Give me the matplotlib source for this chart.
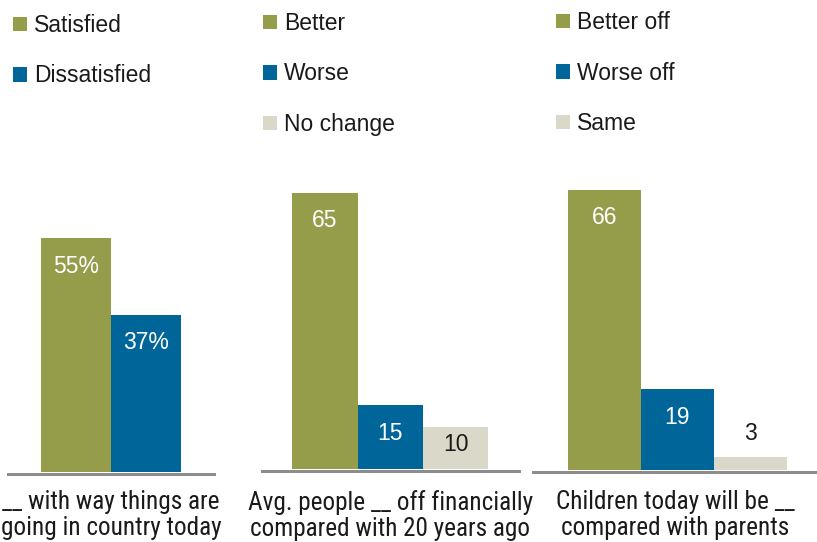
import matplotlib.pyplot as plt
from matplotlib import font_manager

# --- Data ---
panel_titles = [
    "__ with way things are\ngoing in country today",
    "Avg. people __ off financially\ncompared with 20 years ago",
    "Children today will be __\ncompared with parents",
]
panel_labels = [
    ["Satisfied", "Dissatisfied"],
    ["Better", "Worse", "No change"],
    ["Better off", "Worse off", "Same"],
]
panel_values = [
    [55, 37],
    [65, 15, 10],
    [66, 19, 3],
]
panel_suffix = ["%", "", ""]

GREEN = "#969d4a"
BLUE = "#006699"
BEIGE = "#dad8c8"
AXIS_GRAY = "#8c8c8c"
TEXT_DARK = "#1a1a1a"
bar_colors = [GREEN, BLUE, BEIGE]
value_colors = ["white", "white", TEXT_DARK]

W, H = 817, 542
PX_PER_UNIT = 4.25
TOP = 150

fonts = font_manager.fontManager.ttflist
names = {f.name for f in fonts}
BASE = "Liberation Sans" if "Liberation Sans" in names else "DejaVu Sans"
plt.rcParams["font.family"] = [BASE, "DejaVu Sans"]

# condensed face for the category labels, if one is installed
title_font = dict(family=[BASE, "DejaVu Sans"], fontsize=16.5)
for cand in ["Liberation Sans Narrow", "Roboto Condensed", "Open Sans Condensed"]:
    if cand in names:
        title_font = dict(family=[cand, "DejaVu Sans"], fontsize=18.2)
        break
else:
    if any(f.name == "DejaVu Sans" and f.stretch == "condensed" for f in fonts):
        title_font = dict(family=["DejaVu Sans"], fontstretch="condensed",
                          fontsize=17)

# panel layout in pixels: axis line left/right, baseline y, bar width, left edge of first bar
layout = [
    (8, 214, 472, 70.0, 41),
    (262, 519, 469, 65.5, 292),
    (533, 817, 470, 73.0, 568),
]
legend_pos = [(13, 14), (263, 12), (556, 11)]


def add_panel(fig, i):
    left, right, base, bw, first = layout[i]
    ax = fig.add_axes([left / W, 1 - (base + 1.5) / H,
                       (right - left) / W, (base + 1.5 - TOP) / H])
    vals = panel_values[i]
    n = len(vals)
    x0 = -0.5 - (first - left) / bw
    ax.set_xlim(x0, x0 + (right - left) / bw)
    ax.set_ylim(-1.5 / PX_PER_UNIT, (base - TOP) / PX_PER_UNIT)

    bars = ax.bar(range(n), vals, width=1.0, color=bar_colors[:n],
                  label=panel_labels[i], zorder=2)

    for j, v in enumerate(vals):
        h_px = v * PX_PER_UNIT
        if h_px > 50:
            off, col = -28, value_colors[j]
        elif h_px > 30:
            off, col = -18, value_colors[j]
        else:
            off, col = 24, TEXT_DARK
        ax.annotate(f"{v}{panel_suffix[i]}", (j, v), xytext=(0, off * 0.72),
                    textcoords="offset points", ha="center", va="center",
                    color=col, fontsize=16.5, zorder=3)

    for s in ["top", "left", "right"]:
        ax.spines[s].set_visible(False)
    ax.spines["bottom"].set_color(AXIS_GRAY)
    ax.spines["bottom"].set_linewidth(3 * 0.72)
    ax.spines["bottom"].set_zorder(4)
    ax.set_xticks([])
    ax.set_yticks([])
    ax.patch.set_visible(False)

    ax.text(0.5, -(489 - base) / (base + 1.5 - TOP), panel_titles[i],
            transform=ax.transAxes, ha="center", va="top",
            linespacing=1.1, color=TEXT_DARK, **title_font)

    lx, ly = legend_pos[i]
    fig.legend(handles=bars.patches, labels=panel_labels[i],
               loc="upper left", bbox_to_anchor=(lx / W, 1 - ly / H),
               frameon=False, fontsize=16.5, handlelength=0.6,
               handleheight=0.6, handletextpad=0.3, labelspacing=1.2,
               borderpad=0, borderaxespad=0, labelcolor=TEXT_DARK)
    return ax


def main():
    fig = plt.figure(figsize=(W / 100, H / 100), dpi=100)
    for i in range(len(panel_values)):
        add_panel(fig, i)
    fig.savefig("out.png", dpi=100)


if __name__ == "__main__":
    main()
